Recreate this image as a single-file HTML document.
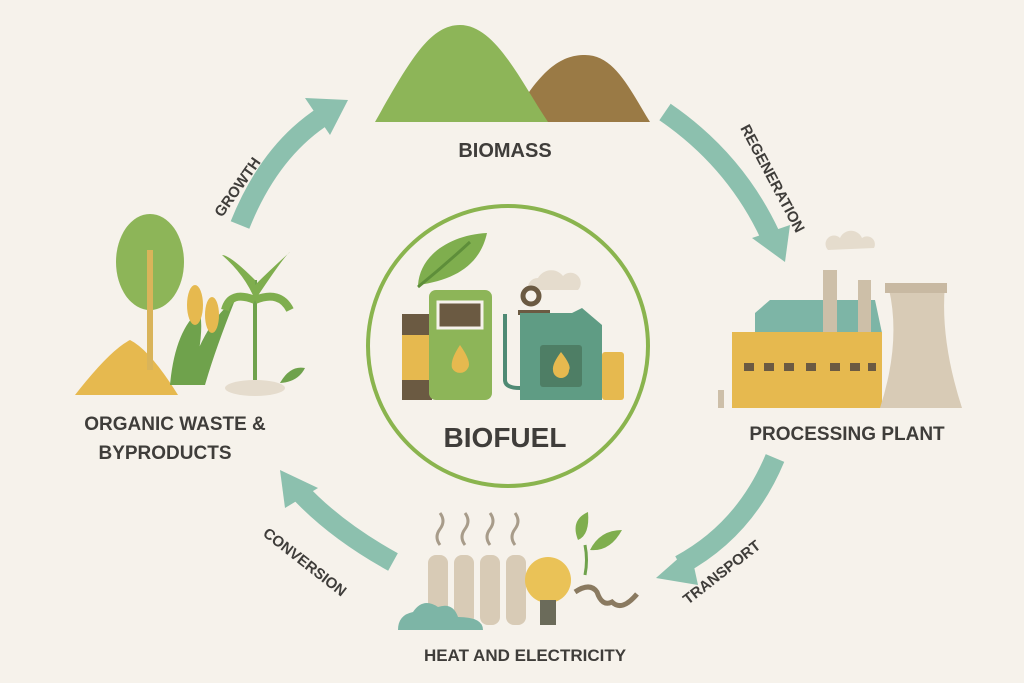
<!DOCTYPE html>
<html><head><meta charset="utf-8"><style>
html,body{margin:0;padding:0;background:#f6f2eb}
svg{display:block}
text{font-family:"Liberation Sans",sans-serif;font-weight:bold;fill:#3f3d3a}
</style></head><body>
<svg width="1024" height="683" viewBox="0 0 1024 683" xmlns="http://www.w3.org/2000/svg">
<rect width="1024" height="683" fill="#f6f2eb"/>
<!-- Biomass -->
<path d="M510,122 C540,70 560,55 585,55 C615,55 630,90 650,122 Z" fill="#9a7a45"/>
<path d="M375,122 C410,60 430,25 460,25 C495,25 520,80 548,122 Z" fill="#8db558"/>
<text x="505" y="157" font-size="20" text-anchor="middle">BIOMASS</text>
<!-- Arrows -->
<g fill="none" stroke="#8cc0ae" stroke-width="20">
<path d="M240,225 Q270,150 325,115"/>
<path d="M665,112 Q735,160 770,235"/>
<path d="M775,458 Q745,530 680,565"/>
<path d="M393,562 Q335,530 298,490"/>
</g>
<g fill="#8cc0ae">
<polygon points="348,100 305,98 330,135"/>
<polygon points="785,262 752,238 790,225"/>
<polygon points="656,578 690,548 698,585"/>
<polygon points="280,470 318,488 285,508"/>
</g>
<text font-size="15" transform="translate(222,218) rotate(-55)">GROWTH</text>
<text font-size="15" transform="translate(740,128) rotate(62)">REGENERATION</text>
<text font-size="15" transform="translate(688,605) rotate(-38)">TRANSPORT</text>
<text font-size="15" transform="translate(262,535) rotate(38)">CONVERSION</text>
<!-- Center -->
<circle cx="508" cy="346" r="140" fill="none" stroke="#8ab44e" stroke-width="4"/>
<path d="M418,285 C420,255 450,235 487,233 C480,265 455,280 418,285 Z" fill="#7fae4e"/>
<path d="M418,287 Q445,265 470,242" stroke="#5e8e3a" stroke-width="3" fill="none"/>
<path d="M528,290 a10,10 0 0 1 10,-12 a15,15 0 0 1 25,-2 a10,10 0 0 1 15,14 z" fill="#e5dccd"/>
<rect x="402" y="314" width="30" height="86" fill="#6b5a42"/>
<rect x="402" y="335" width="30" height="45" fill="#e6b94f"/>
<rect x="429" y="290" width="63" height="110" rx="7" fill="#8db558"/>
<rect x="438" y="302" width="44" height="26" fill="#6b5a42" stroke="#f6f2eb" stroke-width="3"/>
<path d="M460,345 Q472,362 468,368 a9,9 0 0 1 -16,0 Q450,360 460,345Z" fill="#e6b94f"/>
<path d="M505,314 L505,380 Q505,388 520,388" stroke="#4f8a74" stroke-width="4" fill="none"/>
<circle cx="531" cy="296" r="8" fill="none" stroke="#6b5a42" stroke-width="5"/>
<rect x="518" y="310" width="32" height="5" fill="#6b5a42"/>
<path d="M520,313 L572,313 L582,308 L602,325 L602,400 L520,400 Z" fill="#5f9c84"/>
<rect x="540" y="345" width="42" height="42" rx="3" fill="#4e7e65"/>
<path d="M561,352 Q572,366 569,370 a8,8 0 0 1 -16,0 Q552,364 561,352Z" fill="#e6b94f"/>
<rect x="602" y="352" width="22" height="48" rx="3" fill="#e6b94f"/>
<text x="505" y="447" font-size="28" text-anchor="middle">BIOFUEL</text>
<!-- Left plants -->
<path d="M75,395 Q110,350 130,340 Q150,350 178,395 Z" fill="#e6b94f"/>
<ellipse cx="150" cy="262" rx="34" ry="48" fill="#8db558"/>
<rect x="147" y="250" width="6" height="120" fill="#d9b45a"/>
<path d="M170,385 Q175,330 200,310 Q205,340 190,385 M185,385 Q205,320 235,300 Q215,350 205,385" fill="#6fa24c"/>
<ellipse cx="195" cy="305" rx="8" ry="20" fill="#e6b94f"/>
<ellipse cx="212" cy="315" rx="7" ry="18" fill="#e6b94f"/>
<rect x="253" y="280" width="4" height="100" fill="#6fa24c"/>
<path d="M255,280 Q230,255 222,255 Q245,275 255,300 Q285,255 290,252 Q270,270 255,285" fill="#7fae4e"/>
<path d="M255,300 Q230,290 225,310 M255,300 Q280,290 290,310" stroke="#7fae4e" stroke-width="8" fill="none"/>
<ellipse cx="255" cy="388" rx="30" ry="8" fill="#e5dccd"/>
<path d="M280,383 Q290,365 305,368 Q298,382 280,383Z" fill="#6fa24c"/>
<text x="175" y="430" font-size="19" text-anchor="middle">ORGANIC WASTE &amp;</text>
<text x="165" y="459" font-size="19" text-anchor="middle">BYPRODUCTS</text>
<!-- Factory -->
<path d="M828,250 a8,8 0 0 1 12,-12 a12,12 0 0 1 22,0 a8,8 0 0 1 12,10 z" fill="#e5dccd"/>
<polygon points="755,313 770,300 875,300 882,333 755,333" fill="#7db5a6"/>
<rect x="823" y="270" width="14" height="65" fill="#cdbfa8"/>
<rect x="858" y="280" width="13" height="55" fill="#cdbfa8"/>
<rect x="732" y="332" width="150" height="76" fill="#e6b94f"/>
<g fill="#6b5a42"><rect x="744" y="363" width="10" height="8"/><rect x="764" y="363" width="10" height="8"/><rect x="784" y="363" width="10" height="8"/><rect x="806" y="363" width="10" height="8"/><rect x="830" y="363" width="10" height="8"/><rect x="850" y="363" width="10" height="8"/><rect x="868" y="363" width="8" height="8"/></g>
<path d="M888,285 L945,285 Q940,340 962,408 L880,408 Q902,340 888,285Z" fill="#d8cbb6"/>
<rect x="885" y="283" width="62" height="10" fill="#c8b9a2"/>
<rect x="718" y="390" width="6" height="18" fill="#cdbfa8"/>
<text x="847" y="440" font-size="19" text-anchor="middle">PROCESSING PLANT</text>
<!-- Bottom -->
<g stroke="#a89c8a" stroke-width="3" fill="none">
<path d="M440,545 q-6,-8 0,-16 q6,-8 0,-16"/><path d="M465,545 q-6,-8 0,-16 q6,-8 0,-16"/><path d="M490,545 q-6,-8 0,-16 q6,-8 0,-16"/><path d="M515,545 q-6,-8 0,-16 q6,-8 0,-16"/>
</g>
<g fill="#d8cbb6"><rect x="428" y="555" width="20" height="70" rx="8"/><rect x="454" y="555" width="20" height="70" rx="8"/><rect x="480" y="555" width="20" height="70" rx="8"/><rect x="506" y="555" width="20" height="70" rx="8"/></g>
<path d="M398,630 q0,-15 15,-18 q10,-15 25,-5 q15,-5 20,10 q25,0 25,13 z" fill="#7db5a6"/>
<circle cx="548" cy="580" r="23" fill="#eac257"/>
<rect x="540" y="600" width="16" height="25" fill="#6b6b5a"/>
<path d="M578,540 Q570,520 588,512 Q590,535 578,540Z M590,550 Q600,530 622,530 Q610,552 590,550Z" fill="#7fae4e"/>
<path d="M585,545 Q588,560 585,575" stroke="#6fa24c" stroke-width="3" fill="none"/>
<path d="M575,592 q15,-10 22,0 q5,15 15,10 q10,10 25,-8" stroke="#8a7a60" stroke-width="5" fill="none"/>
<text x="525" y="661" font-size="17" text-anchor="middle">HEAT AND ELECTRICITY</text>
</svg>
</body></html>
